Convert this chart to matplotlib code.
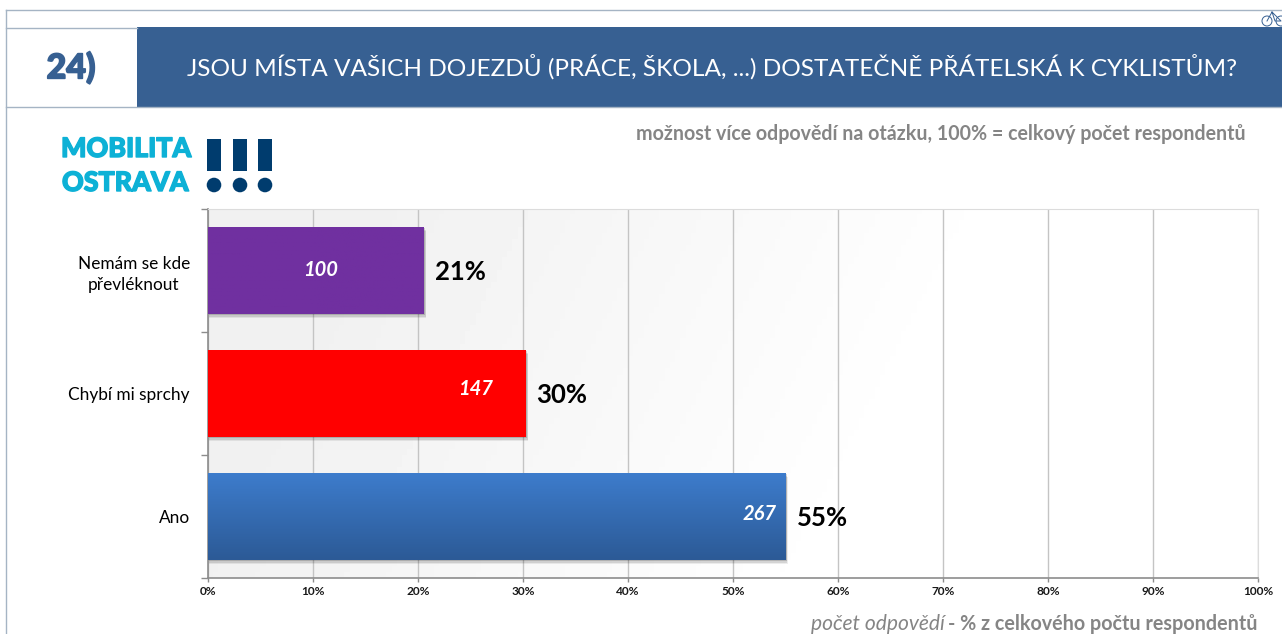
"""
Czech survey question 24: bar chart of answers with header band and logo
"""

import matplotlib
matplotlib.use('Agg')
import matplotlib.pyplot as plt
import matplotlib.patheffects as pe
from matplotlib.patches import Rectangle, Circle
import numpy as np

plt.rcParams['font.family'] = ['Lato', 'DejaVu Sans']

#---------------------------------------------------------------------------------------------------
# Data
#---------------------------------------------------------------------------------------------------

categories = ['Ano', 'Chybí mi sprchy', 'Nemám se kde\npřevléknout']
shares = [55.0, 30.25, 20.55]
counts = [267, 147, 100]
pct_labels = ['55%', '30%', '21%']
xticks = [0, 10, 20, 30, 40, 50, 60, 70, 80, 90, 100]

title = 'JSOU MÍSTA VAŠICH DOJEZDŮ (PRÁCE, ŠKOLA, ...) DOSTATEČNĚ PŘÁTELSKÁ K CYKLISTŮM?'
subtitle = 'možnost více odpovědí na otázku, 100% = celkový počet respondentů'

# top and bottom colour of each bar
bar_colors = [('#3d7ccc', '#2c5a96'), ('#ff0000', '#ff0000'), ('#7030a0', '#7030a0')]

# how far the count labels sit from the bar end (x) and bar centre (y)
count_inset = [0.85, 3.1, 8.2]
count_lift = [0.02, 0.035, 0.0]

#---------------------------------------------------------------------------------------------------
# Figure and page furniture (pixel coordinates)
#---------------------------------------------------------------------------------------------------

W, H = 1282, 634
fig = plt.figure(figsize=(W / 100, H / 100), dpi=100, facecolor='white')
page = fig.add_axes([0, 0, 1, 1])
page.set_xlim(0, W)
page.set_ylim(H, 0)
page.axis('off')

frame = '#a5b4c4'
grey_text = '#858585'
page.plot([6, W], [9.5, 9.5], color=frame, lw=1)
page.plot([6, 6], [9.5, H], color=frame, lw=1)
page.plot([6, 137], [27.5, 27.5], color=frame, lw=1)
page.plot([6, W], [106.5, 106.5], color=frame, lw=1)
page.add_patch(Rectangle((137, 27), W - 137, 79.5, color='#376092', lw=0))

page.text(71, 68, '24)', color='#376092', fontsize=24.5, fontweight='black', ha='center', va='center',
          path_effects=[pe.withStroke(linewidth=1.2, foreground='#376092')])
page.text(712.5, 67, title, color='white', fontsize=17.6, ha='center', va='center')
page.text(1246, 134, subtitle, color=grey_text, fontsize=14.1, fontweight='bold', ha='right', va='center')
page.text(811, 624.5, 'počet odpovědí', color=grey_text, fontsize=15.1, style='italic', ha='left', va='center')
page.text(1257, 624.5, '- % z celkového počtu respondentů', color=grey_text, fontsize=14.2, fontweight='bold',
          ha='right', va='center')

# Logo
logo_stroke = [pe.withStroke(linewidth=1.0, foreground='#0db1d6')]
page.text(61, 149, 'MOBILITA', color='#0db1d6', fontsize=19.3, fontweight='black', ha='left', va='center',
          path_effects=logo_stroke)
page.text(62, 183, 'OSTRAVA', color='#0db1d6', fontsize=19.3, fontweight='black', ha='left', va='center',
          path_effects=logo_stroke)
for x in [214, 240, 265]:
    page.add_patch(Rectangle((x - 7, 139), 14, 32, color='#003c6e', lw=0))
    page.add_patch(Circle((x, 185), 7.3, color='#003c6e', lw=0))

# Small bicycle icon in the corner
for x in [1267, 1281]:
    page.add_patch(Circle((x, 21), 5, fill=False, ec='#376092', lw=0.7))
page.plot([1267, 1272, 1281, 1275, 1272], [21, 12, 21, 21, 12], color='#376092', lw=0.7)

#---------------------------------------------------------------------------------------------------
# Chart
#---------------------------------------------------------------------------------------------------

ax = fig.add_axes([208 / W, 1 - 578 / H, 1050 / W, 369 / H])
ax.patch.set_alpha(0)
ax.set_xlim(0, 100)
ax.set_ylim(-0.5, 2.5)

# Diagonal background wash, light grey at left fading to white
gx, gy = np.meshgrid(np.linspace(0, 1, 200), np.linspace(0, 1, 60))
wash = np.clip(0.945 + 0.055 * (gx * 1.7 - gy * 0.3), 0.945, 1)
ax.imshow(wash, extent=[0, 100, -0.5, 2.5], origin='lower', aspect='auto', cmap='gray', vmin=0, vmax=1, zorder=0)

ax.set_xticks(xticks)
ax.set_xticklabels([f'{t}%' for t in xticks], fontsize=8.6, fontweight='bold', color='#1a1a1a')
ax.set_yticks([0, 1, 2])
ax.set_yticklabels(categories, fontsize=12.4, color='black', linespacing=1.35, multialignment='center')
ax.set_yticks([-0.5, 0.5, 1.5, 2.5], minor=True)
ax.tick_params(axis='y', which='major', length=0, pad=13)
ax.tick_params(axis='y', which='minor', length=5, color='#8c8c8c', width=1)
ax.tick_params(axis='x', length=3, color='#8c8c8c', width=1, pad=3, direction='out')
ax.grid(True, axis='x', color='#c4c4c4', lw=1, zorder=1)
ax.set_axisbelow(True)
ax.spines['top'].set_color('#dcdcdc')
ax.spines['right'].set_color('#dcdcdc')
ax.spines['left'].set_color('#8c8c8c')
ax.spines['bottom'].set_color('#8c8c8c')
ax.spines['left'].set_linewidth(1.2)
ax.spines['bottom'].set_linewidth(1.2)

bar_h = 87 / 123
for i, (v, c, lab, cols) in enumerate(zip(shares, counts, pct_labels, bar_colors)):
    # soft shadow beneath each bar
    for off, a in [(0.035, 0.07), (0.022, 0.1), (0.01, 0.15)]:
        ax.add_patch(Rectangle((0.1, i - bar_h / 2 - off), v + off * 4, bar_h, color='black', alpha=a, lw=0, zorder=2))
    bar = ax.barh(i, v, height=bar_h, color=cols[0], lw=0, zorder=3)[0]
    top = np.array(matplotlib.colors.to_rgb(cols[0]))
    bot = np.array(matplotlib.colors.to_rgb(cols[1]))
    grad = np.linspace(0, 1, 64)[:, None, None] * (top - bot) + bot
    im = ax.imshow(grad, extent=[0, v, i - bar_h / 2, i + bar_h / 2], origin='lower', aspect='auto', zorder=3.5)
    im.set_clip_path(bar)
    ax.text(v - count_inset[i], i + count_lift[i], str(c), color='white', fontsize=14.5,
            fontweight='bold', style='italic', ha='right', va='center', zorder=5)
    ax.text(v + 1.05, i - 0.015, lab, color='black', fontsize=18.5, fontweight='bold', ha='left', va='center', zorder=5)

# imshow resets the limits
ax.set_xlim(0, 100)
ax.set_ylim(-0.5, 2.5)

fig.savefig('out.png', dpi=100)
